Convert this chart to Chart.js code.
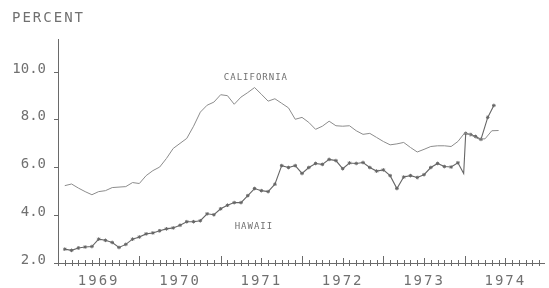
<!DOCTYPE html>
<html>
<head>
<meta charset="utf-8">
<script src="https://cdn.jsdelivr.net/npm/chart.js@4"></script>
<style>
  html, body { margin: 0; padding: 0; background: #fff; }
</style>
</head>
<body>
<canvas id="myChart" width="549" height="288"></canvas>
<script>
// Data (x = months since the start of 1969)

var calMonths = [1, 2, 3, 4, 5, 6, 7, 8, 9, 10, 11, 12, 13, 14, 15, 16, 17, 18, 19, 20,
    21, 22, 23, 24, 25, 26, 27, 28, 29, 30, 31, 32, 33, 34, 35, 36, 37, 38, 39, 40,
    41, 42, 43, 44, 45, 46, 47, 48, 49, 50, 51, 52, 53, 54, 55, 56, 57, 58, 59, 60,
    61, 62, 63, 64, 65]
var calValues = [5.24, 5.31, 5.14, 4.99, 4.86, 4.99, 5.03, 5.16, 5.18, 5.2,
    5.37, 5.33, 5.66, 5.87, 6.02, 6.38, 6.8, 7.01, 7.22, 7.73,
    8.32, 8.61, 8.74, 9.05, 9.01, 8.65, 8.95, 9.14, 9.35, 9.07,
    8.78, 8.88, 8.69, 8.5, 8.02, 8.1, 7.89, 7.6, 7.73, 7.94,
    7.75, 7.73, 7.75, 7.54, 7.39, 7.43, 7.26, 7.09, 6.95, 6.99,
    7.05, 6.84, 6.65, 6.76, 6.88, 6.91, 6.91, 6.88, 7.09, 7.45,
    7.35, 7.2, 7.2, 7.54, 7.55]

var hawMonths = [1, 2, 3, 4, 5, 6, 7, 8, 9, 10, 11, 12, 13, 14, 15, 16, 17, 18, 19, 20,
    21, 22, 23, 24, 25, 26, 27, 28, 29, 30, 31, 32, 33, 34, 35, 36, 37, 38, 39, 40,
    41, 42, 43, 44, 45, 46, 47, 48, 49, 50, 51, 52, 53, 54, 55, 56, 57, 58, 59,
    59.85, 60.15, 60.9, 61.6, 62.4, 63.4, 64.3]
var hawValues = [2.58, 2.53, 2.63, 2.67, 2.69, 3.0, 2.95, 2.86, 2.65, 2.78,
    3.0, 3.09, 3.22, 3.26, 3.35, 3.43, 3.47, 3.58, 3.73, 3.73,
    3.77, 4.06, 4.02, 4.27, 4.42, 4.53, 4.53, 4.82, 5.12, 5.03,
    4.99, 5.3, 6.08, 6.0, 6.08, 5.75, 6.0, 6.17, 6.13, 6.34,
    6.29, 5.95, 6.19, 6.17, 6.21, 6.0, 5.85, 5.9, 5.66, 5.12,
    5.6, 5.66, 5.58, 5.7, 6.0, 6.17, 6.04, 6.02, 6.2,
    5.75, 7.43, 7.38, 7.3, 7.18, 8.1, 8.6]

var yearLabels = ['1969', '1970', '1971', '1972', '1973', '1974']
var seriesNames = ['CALIFORNIA', 'HAWAII']

// Styling

var font = '"DejaVu Sans Mono", monospace'
var textColor = '#707070'
var axisColor = '#6a6a6a'

function points(xs, ys) {
    return xs.map((x, i) => ({ x: x, y: ys[i] }))
}

// Month ticks across the time axis and the series names.
// Wide letter spacing for title and years; the y tick labels (ticks.z 1)
// are drawn after the datasets with normal spacing.

var extras = {
    id: 'extras',
    beforeDraw(chart) {
        chart.ctx.letterSpacing = '2px'
    },
    afterDatasetsDraw(chart) {
        chart.ctx.letterSpacing = '0px'
    },
    afterDraw(chart, args, opts) {
        var ctx = chart.ctx
        var xs = chart.scales.x, ys = chart.scales.y
        var base = chart.chartArea.bottom

        ctx.save()
        ctx.strokeStyle = axisColor
        ctx.lineWidth = 1
        ctx.beginPath()
        for (var m = 0; m <= 71; m++) {
            var px = Math.round(xs.getPixelForValue(m)) + 0.5
            var up = m % 12 === 0 ? 7 : (m % 6 === 0 ? 5 : 3)
            ctx.moveTo(px, base - up)
            ctx.lineTo(px, base + 3)
        }
        ctx.stroke()

        ctx.font = '9px ' + font
        ctx.letterSpacing = '1px'
        ctx.fillStyle = textColor
        ctx.textAlign = 'center'
        ctx.textBaseline = 'middle'
        opts.names.forEach(n => {
            ctx.fillText(n.text, xs.getPixelForValue(n.at[0]), ys.getPixelForValue(n.at[1]))
        })
        ctx.restore()
    }
}

var ctx = document.getElementById('myChart').getContext('2d')

var myChart = new Chart(ctx, {
    type: 'line',
    data: {
        datasets: [{
            label: seriesNames[0],
            data: points(calMonths, calValues),
            borderColor: '#8c8c8c',
            borderWidth: 1,
            pointRadius: 0,
            tension: 0,
        }, {
            label: seriesNames[1],
            data: points(hawMonths, hawValues),
            borderColor: '#666666',
            borderWidth: 1.1,
            pointStyle: 'star',
            pointRadius: c => (c.dataIndex === 59 ? 0 : 1.8),
            pointBorderWidth: 1,
            pointBorderColor: '#666666',
            pointBackgroundColor: '#666666',
            tension: 0,
        }]
    },
    options: {
        responsive: false,
        animation: false,
        layout: { padding: { left: 12, right: 0, top: 0, bottom: 0 } },
        plugins: {
            legend: { display: false },
            tooltip: { enabled: false },
            title: {
                display: true,
                text: 'PERCENT',
                align: 'start',
                color: textColor,
                font: { family: font, size: 14, weight: 'normal' },
                padding: { top: 10, bottom: 13 },
            },
            extras: {
                names: [
                    { text: seriesNames[0], at: [29.2, 9.75] },
                    { text: seriesNames[1], at: [28.9, 3.52] },
                ]
            }
        },
        scales: {
            x: {
                type: 'linear',
                min: 0,
                max: 71.7,
                afterFit: s => { s.height = 25 },
                grid: { display: false },
                border: { display: true, color: axisColor, width: 1 },
                ticks: {
                    stepSize: 6,
                    includeBounds: false,
                    autoSkip: false,
                    maxRotation: 0,
                    padding: 2,
                    color: textColor,
                    font: { family: font, size: 14 },
                    callback: v => (v % 12 === 6 ? yearLabels[(v - 6) / 12] : ''),
                }
            },
            y: {
                min: 2,
                max: 11.35,
                afterFit: s => { s.width = 46 },
                grid: { drawOnChartArea: false, tickLength: 4, color: axisColor },
                border: { display: true, color: axisColor, width: 1 },
                ticks: {
                    z: 1,
                    stepSize: 2,
                    includeBounds: false,
                    padding: 8,
                    labelOffset: -3,
                    color: textColor,
                    font: { family: font, size: 14 },
                    callback: v => v.toFixed(1),
                }
            }
        }
    },
    plugins: [extras]
})
</script>
</body>
</html>
